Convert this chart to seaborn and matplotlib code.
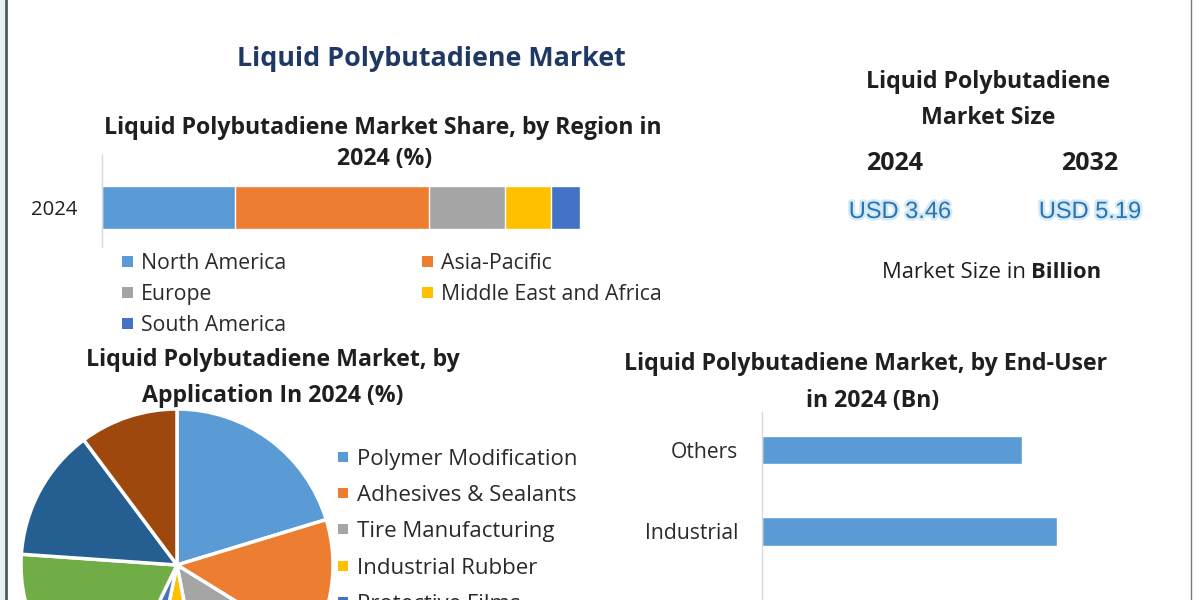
import matplotlib
matplotlib.use("Agg")
import matplotlib.pyplot as plt
import matplotlib.patheffects as pe
from matplotlib.patches import Rectangle
import numpy as np
import pandas as pd
import seaborn as sns

# ---- data -------------------------------------------------------------
region_names = ["North America", "Asia-Pacific", "Europe",
                "Middle East and Africa", "South America"]
region_share = [27.8, 40.6, 15.9, 9.6, 6.1]
region_colors = ["#5B9BD5", "#ED7D31", "#A5A5A5", "#FFC000", "#4472C4"]
region_year = "2024"

application_names = ["Polymer Modification", "Adhesives & Sealants",
                     "Tire Manufacturing", "Industrial Rubber",
                     "Protective Films", "Coatings", "Electronics", "Others"]
application_share = [20.3, 13.5, 13.2, 6.3, 3.9, 18.9, 13.7, 10.2]
application_colors = ["#5B9BD5", "#ED7D31", "#A5A5A5", "#FFC000",
                      "#4472C4", "#70AD47", "#255E91", "#9E480E"]

enduser_names = ["Others", "Industrial", "Construction"]
enduser_value_bn = [0.88, 1.00, 0.91]

size_years = ["2024", "2032"]
size_values = ["USD 3.46", "USD 5.19"]

# ---- style ------------------------------------------------------------
sns.set_theme(style="white")
plt.rcParams["font.family"] = ["Open Sans", "DejaVu Sans"]
TXT = "#1f1f1f"
LEG = "#2a2a2a"
BOLD = 16.7
DY = 2.5  # baseline nudge for text placed by its centre line

fig = plt.figure(figsize=(12, 6), dpi=100)
fig.patch.set_facecolor("white")

# overlay in pixel coordinates for titles, legends and frame
ov = fig.add_axes([0, 0, 1, 1])
ov.set_xlim(0, 1200)
ov.set_ylim(600, 0)
ov.axis("off")

def label(x, y, s, **kw):
    kw.setdefault("va", "center")
    return ov.text(x, y + DY, s, **kw)

def px_axes(left, top, right, bottom):
    return fig.add_axes([left / 1200, 1 - bottom / 600,
                         (right - left) / 1200, (bottom - top) / 600])

# frame lines
ov.add_patch(Rectangle((0, 0), 5, 600, color="#e9f3f6", lw=0))
ov.plot([5.5, 5.5], [0, 600], color="#4f5b60", lw=2)
ov.plot([1191, 1191], [0, 600], color="#7a7a7a", lw=1)

# main title
label(431, 57, "Liquid Polybutadiene Market", ha="center",
      fontsize=19.4, fontweight="bold", color="#1F3864")

# ---- regional stacked bar --------------------------------------------
label(383, 125, "Liquid Polybutadiene Market Share, by Region in",
      ha="center", fontsize=BOLD, fontweight="bold", color=TXT)
label(385, 157, "2024 (%)", ha="center",
      fontsize=BOLD, fontweight="bold", color=TXT)

ax1 = px_axes(102, 155, 580, 247)
ax1.set_facecolor("none")
cum = np.cumsum(region_share)
for name, c, total in reversed(list(zip(region_names, region_colors, cum))):
    sns.barplot(x=[total], y=[region_year], orient="h", color=c,
                saturation=1, width=0.47, errorbar=None, ax=ax1)
ax1.set_xlim(0, 100)
ax1.set_ylim(0.432, -0.574)
ax1.set_xlabel("")
ax1.set_ylabel("")
ax1.set_xticks([])
for s in ["top", "right", "bottom"]:
    ax1.spines[s].set_visible(False)
ax1.spines["left"].set_color("#d9d9d9")
ax1.spines["left"].set_linewidth(1)
ax1.tick_params(axis="y", length=0, pad=18, labelsize=14.6, labelcolor=TXT)

# region legend
leg_pos = [(122, 261), (422, 261), (122, 292), (422, 292), (122, 323)]
for (x, y), name, c in zip(leg_pos, region_names, region_colors):
    ov.add_patch(Rectangle((x, y - 5.5), 11, 11, color=c, lw=0))
    label(x + 19, y, name, ha="left", fontsize=15.3, color=LEG)

# ---- market size panel ----------------------------------------------
label(988, 80, "Liquid Polybutadiene", ha="center",
      fontsize=BOLD, fontweight="bold", color=TXT)
label(988, 116, "Market Size", ha="center",
      fontsize=BOLD, fontweight="bold", color=TXT)
for x, yr, val in zip([895, 1090], size_years, size_values):
    label(x, 161, yr, ha="center", fontsize=18, fontweight="bold", color=TXT)
    ov.text(x + (5 if yr == "2024" else 0), 212, val, ha="center",
            va="center", fontsize=17, color="#2A73B2",
            family=["Liberation Sans", "DejaVu Sans"],
            path_effects=[pe.withStroke(linewidth=3.5, foreground="#d3eaf6")])
label(1026, 270, "Market Size in", ha="right", fontsize=15.8, color=TXT)
label(1031, 270, "Billion", ha="left", fontsize=15.8, fontweight="bold",
      color=TXT)

# ---- application pie -------------------------------------------------
label(273, 357, "Liquid Polybutadiene Market, by", ha="center",
      fontsize=BOLD, fontweight="bold", color=TXT)
label(273, 393, "Application In 2024 (%)", ha="center",
      fontsize=BOLD, fontweight="bold", color=TXT)

cx, cy, r = 177, 565, 156
axp = px_axes(cx - r, cy - r, cx + r, cy + r)
axp.set_facecolor("none")
axp.pie(application_share, colors=application_colors, startangle=90,
        counterclock=False, radius=1,
        wedgeprops=dict(edgecolor="white", linewidth=2.5))
axp.set_xlim(-1, 1)
axp.set_ylim(-1, 1)
axp.axis("off")

for i, (name, c) in enumerate(zip(application_names, application_colors)):
    y = 457 + 36.2 * i
    ov.add_patch(Rectangle((338, y - 5), 10, 10, color=c, lw=0))
    label(357, y, name, ha="left", fontsize=16, color=LEG)

# ---- end-user bars ---------------------------------------------------
label(866, 362, "Liquid Polybutadiene Market, by End-User", ha="center",
      fontsize=BOLD, fontweight="bold", color=TXT)
label(873, 398, "in 2024 (Bn)", ha="center",
      fontsize=BOLD, fontweight="bold", color=TXT)

ax2 = px_axes(762, 412, 1116, 694.5)
ax2.set_facecolor("none")
sns.barplot(x=enduser_value_bn, y=enduser_names, orient="h",
            color="#5B9BD5", saturation=1, width=0.35, errorbar=None, ax=ax2)
ax2.set_xlim(0, 1.2)
ax2.set_ylim(3.0, -0.466)
ax2.set_xlabel("")
ax2.set_ylabel("")
ax2.set_xticks([])
for s in ["top", "right", "bottom"]:
    ax2.spines[s].set_visible(False)
ax2.spines["left"].set_color("#d9d9d9")
ax2.spines["left"].set_linewidth(1)
ax2.tick_params(axis="y", length=0, pad=17, labelsize=15.2, labelcolor=LEG)

fig.savefig("out.png", dpi=100, facecolor="white")
